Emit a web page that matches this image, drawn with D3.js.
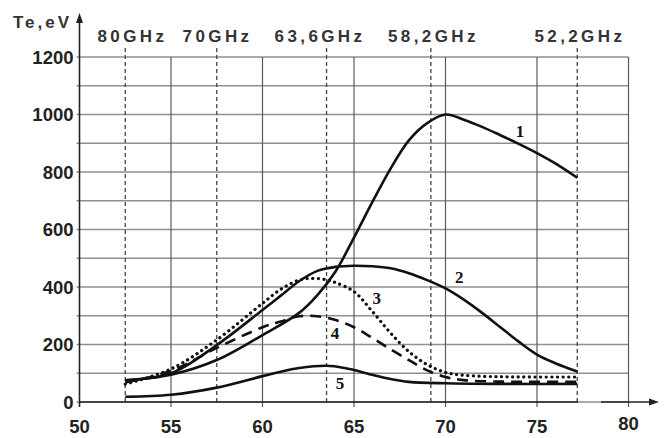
<!DOCTYPE html>
<html><head><meta charset="utf-8">
<script src="https://cdn.jsdelivr.net/npm/d3@7/dist/d3.min.js"></script>
<style>body{margin:0;background:#fff}svg{display:block}</style>
</head><body>
<svg id="c" width="666" height="438"></svg>
<script>
// ---- data ----
const xTicks = [50, 55, 60, 65, 70, 75, 80];
const xGridTicks = [55, 60, 65, 70, 75, 80];
const yTicks = [0, 200, 400, 600, 800, 1000, 1200];
const yGridTicks = [0, 100, 200, 300, 400, 500, 600, 700, 800, 900, 1000, 1100, 1200];
const freqLabels = ["80GHz", "70GHz", "63,6GHz", "58,2GHz", "52,2GHz"];
const freqX = [52.5, 57.5, 63.5, 69.2, 77.2];
const freqLabelX = [52.8, 57.45, 63.05, 69.25, 77.25];

const s1x = [52.5, 55, 57.5, 60, 62, 63, 64, 65, 66, 67, 68, 69, 70, 71, 72, 73, 74, 75, 76, 77.2];
const s1y = [75, 95, 146, 233, 310, 372, 455, 572, 695, 812, 910, 970, 1000, 982, 957, 928, 898, 866, 830, 780];
const s2x = [52.5, 55, 57.5, 60, 61, 62, 63, 64, 65, 66, 67, 68, 69, 70, 71, 72, 73, 74, 75, 76, 77.2];
const s2y = [76, 100, 198, 320, 370, 420, 456, 470, 474, 472, 465, 448, 424, 395, 356, 310, 260, 210, 165, 135, 106];
const s3x = [52.5, 55, 57.5, 60, 61, 62, 62.8, 63.5, 64, 65, 66, 67, 68, 69, 70, 71, 73, 75, 77.2];
const s3y = [62, 115, 216, 343, 392, 424, 430, 425, 415, 384, 315, 240, 175, 130, 103, 93, 88, 87, 87];
const s4x = [52.5, 55, 57.5, 60, 61, 62, 63, 64, 65, 66, 67, 68, 69, 70, 71, 73, 75, 77.2];
const s4y = [68, 108, 188, 260, 280, 298, 298, 285, 260, 223, 183, 146, 110, 87, 76, 71, 70, 70];
const s5x = [52.5, 55, 57.5, 60, 61, 62, 63.5, 64.5, 66, 67, 68, 70, 73, 77.2];
const s5y = [18, 25, 50, 90, 105, 118, 126, 118, 95, 80, 70, 65, 63, 63];

const seriesNames = ["1", "2", "3", "4", "5"];
const seriesLabelX = [74.07, 70.75, 66.24, 63.96, 64.23];
const seriesLabelY = [940, 434, 361, 239, 65];

// ---- drawing ----
const svg = d3.select("#c");
const x = d3.scaleLinear().domain([50, 80]).range([79.5, 628.5]);
const y = d3.scaleLinear().domain([0, 1200]).range([402, 57]);

// horizontal grid
svg.append("g").selectAll("line").data(yGridTicks).join("line")
  .attr("x1", x(50) - 3).attr("x2", x(80))
  .attr("y1", d => y(d)).attr("y2", d => y(d))
  .attr("stroke", "#8f8f8f").attr("stroke-width", 1.6);

// vertical grid
svg.append("g").selectAll("line").data(xGridTicks).join("line")
  .attr("x1", d => x(d)).attr("x2", d => x(d))
  .attr("y1", y(1200)).attr("y2", y(0) + 5)
  .attr("stroke", "#5a5a5a").attr("stroke-width", 1.2);

// frequency dashed lines
svg.append("g").selectAll("line").data(freqX).join("line")
  .attr("x1", d => x(d)).attr("x2", d => x(d))
  .attr("y1", y(1200) - 9).attr("y2", y(0))
  .attr("stroke", "#444").attr("stroke-width", 1.3)
  .attr("stroke-dasharray", "4,3");

// axes
const ax = svg.append("g").attr("stroke", "#222").attr("stroke-width", 1.6);
ax.append("line").attr("x1", x(50)).attr("x2", x(50)).attr("y1", y(0) + 5).attr("y2", 20);
ax.append("line").attr("x1", x(50)).attr("x2", 578).attr("y1", y(0)).attr("y2", y(0));
ax.append("line").attr("x1", 601).attr("x2", 651).attr("y1", y(0)).attr("y2", y(0));
svg.append("path").attr("d", `M${x(50)},13 L${x(50)-3.5},23 L${x(50)+3.5},23 Z`).attr("fill", "#222");
svg.append("path").attr("d", `M659,${y(0)} L649,${y(0)-3.5} L649,${y(0)+3.5} Z`).attr("fill", "#222");

// tick labels
svg.append("g").selectAll("text").data(yTicks).join("text")
  .attr("x", x(50) - 6).attr("y", d => y(d))
  .attr("text-anchor", "end").attr("dominant-baseline", "central")
  .attr("font-family", "Liberation Sans, Arial, sans-serif").attr("font-weight", "bold")
  .attr("font-size", 18.5).attr("fill", "#222").text(d => d);

svg.append("g").selectAll("text").data(xTicks).join("text")
  .attr("x", d => x(d)).attr("y", d => d === 80 ? 423 : 426)
  .attr("text-anchor", "middle").attr("dominant-baseline", "central")
  .attr("font-family", "Liberation Sans, Arial, sans-serif").attr("font-weight", "bold")
  .attr("font-size", 18.5).attr("fill", "#222").text(d => d);

// axis title
svg.append("text").attr("x", 13).attr("y", 22).attr("dominant-baseline", "central")
  .attr("font-family", "Liberation Sans, Arial, sans-serif").attr("font-weight", "bold")
  .attr("font-size", 17).attr("letter-spacing", 3).attr("fill", "#333").text("Te,eV");

// frequency labels
svg.append("g").selectAll("text").data(freqLabels).join("text")
  .attr("x", (d, i) => x(freqLabelX[i]) + 1.7).attr("y", 36)
  .attr("text-anchor", "middle").attr("dominant-baseline", "central")
  .attr("font-family", "Liberation Sans, Arial, sans-serif").attr("font-weight", "bold")
  .attr("font-size", 17).attr("letter-spacing", 3.4).attr("fill", "#333").text(d => d);

// curves
const line = d3.line().x(d => x(d[0])).y(d => y(d[1])).curve(d3.curveCatmullRom.alpha(0.5));
const series = [
  {xs: s1x, ys: s1y, dash: null},
  {xs: s2x, ys: s2y, dash: null},
  {xs: s3x, ys: s3y, dash: "0.1,5.5"},
  {xs: s4x, ys: s4y, dash: "11,7"},
  {xs: s5x, ys: s5y, dash: null}
];
svg.append("g").selectAll("path").data(series).join("path")
  .attr("d", s => line(s.xs.map((v, i) => [v, s.ys[i]])))
  .attr("fill", "none").attr("stroke", "#111")
  .attr("stroke-width", s => s.dash && s.dash.startsWith("0.1") ? 3.2 : 2.6)
  .attr("stroke-linecap", s => s.dash && s.dash.startsWith("0.1") ? "round" : "butt")
  .attr("stroke-dasharray", s => s.dash);

// series labels
svg.append("g").selectAll("text").data(seriesNames).join("text")
  .attr("x", (d, i) => x(seriesLabelX[i])).attr("y", (d, i) => y(seriesLabelY[i]))
  .attr("text-anchor", "middle").attr("dominant-baseline", "central")
  .attr("font-family", "Liberation Serif, Times New Roman, serif").attr("font-weight", "bold")
  .attr("font-size", 17).attr("fill", "#111").text(d => d);
</script>
</body></html>
